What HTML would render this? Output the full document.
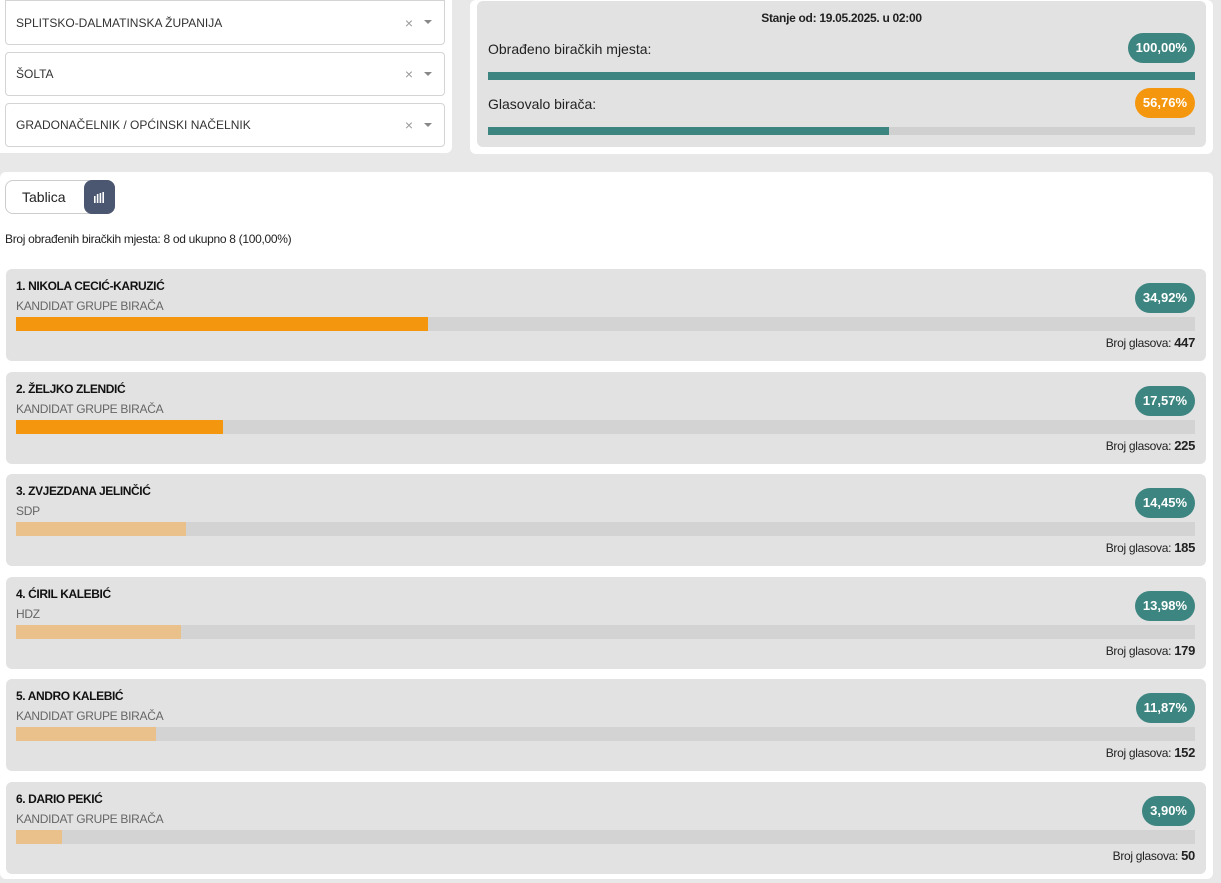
<!DOCTYPE html>
<html><head><meta charset="utf-8"><style>
*{box-sizing:border-box;margin:0;padding:0}
body{width:1221px;height:883px;background:#e8e8e8;font-family:"Liberation Sans",sans-serif;position:relative;overflow:hidden;color:#222}
.abs{position:absolute}
.panel{position:absolute;background:#fff;border-radius:6px}
.sel{position:absolute;left:5px;width:440px;height:44px;border:1px solid #d4d4d4;border-radius:4px;background:#fff;font-size:12px;color:#333;padding-left:10px;line-height:42px}
.sel .x{position:absolute;right:31px;top:0;color:#999;font-size:14px}
.sel .c{position:absolute;right:12px;top:19px;border-left:4px solid transparent;border-right:4px solid transparent;border-top:4px solid #888}
.badge{position:absolute;right:0;height:30px;border-radius:15px;background:#3d8580;color:#fff;font-weight:bold;font-size:13px;line-height:30px;padding:0 8px}
.card{position:absolute;left:6px;width:1200px;height:92px;background:#e2e2e2;border-radius:6px}
.card .nm{position:absolute;left:10px;top:10px;font-size:12px;font-weight:bold;letter-spacing:-0.4px;color:#111}
.card .sb{position:absolute;left:10px;top:30px;font-size:12px;color:#666;letter-spacing:-0.3px}
.card .tr{position:absolute;left:10px;top:48px;width:1179px;height:14px;background:#d3d3d3}
.card .fl{position:absolute;left:0;top:0;height:14px}
.card .bd{position:absolute;right:11px;top:14px;height:30px;border-radius:15px;background:#3d8580;color:#fff;font-weight:bold;font-size:13px;line-height:30px;padding:0 8px}
.card .vt{position:absolute;right:11px;top:66px;font-size:12px;color:#222;letter-spacing:-0.3px}
.card .vt b{font-size:13px}
</style></head><body>
<div class="panel" style="left:0;top:0;width:452px;height:153px;border-radius:0 0 6px 0"></div>
<div class="sel" style="top:0px;border-top-left-radius:0;border-top-right-radius:0;height:45px;line-height:44px">SPLITSKO-DALMATINSKA ŽUPANIJA<span class="x">×</span><span class="c"></span></div>
<div class="sel" style="top:52px">ŠOLTA<span class="x">×</span><span class="c"></span></div>
<div class="sel" style="top:103px">GRADONAČELNIK / OPĆINSKI NAČELNIK<span class="x">×</span><span class="c"></span></div>

<div class="panel" style="left:470px;top:0;width:743px;height:154px"></div>
<div class="abs" style="left:477px;top:1px;width:729px;height:146px;background:#e2e2e2;border-radius:6px">
 <div class="abs" style="left:0;width:729px;top:10px;text-align:center;font-size:12px;font-weight:bold;letter-spacing:-0.3px">Stanje od: 19.05.2025. u 02:00</div>
 <div class="abs" style="left:11px;top:40px;font-size:14px;color:#222">Obrađeno biračkih mjesta:</div>
 <div class="abs" style="right:11px;top:32px;height:30px;border-radius:15px;background:#3d8580;color:#fff;font-weight:bold;font-size:13px;line-height:30px;padding:0 8px">100,00%</div>
 <div class="abs" style="left:11px;top:71px;width:707px;height:8px;background:#3d8580"></div>
 <div class="abs" style="left:11px;top:95px;font-size:14px;color:#222">Glasovalo birača:</div>
 <div class="abs" style="right:11px;top:87px;height:30px;border-radius:15px;background:#f5960f;color:#fff;font-weight:bold;font-size:13px;line-height:30px;padding:0 8px">56,76%</div>
 <div class="abs" style="left:11px;top:126px;width:707px;height:8px;background:#d0d0d0"><div style="width:401px;height:8px;background:#3d8580"></div></div>
</div>

<div class="panel" style="left:0;top:172px;width:1213px;height:707px"></div>
<div class="abs" style="left:5px;top:180px;width:110px;height:34px;border:1px solid #ccc;border-radius:8px;background:#fff"></div>
<div class="abs" style="left:22px;top:189px;font-size:14px;color:#222">Tablica</div>
<div class="abs" style="left:84px;top:180px;width:31px;height:34px;background:#4b5670;border-radius:8px;color:#fff;text-align:center">
 <svg width="31" height="34"><g fill="#fff"><rect x="10" y="16" width="1.6" height="7"/><rect x="12.8" y="14" width="1.6" height="9"/><rect x="15.6" y="13" width="1.6" height="10"/><rect x="18.4" y="12" width="1.6" height="11"/></g></svg>
</div>
<div class="abs" style="left:5px;top:232px;font-size:12px;color:#222;letter-spacing:-0.3px">Broj obrađenih biračkih mjesta: 8 od ukupno 8 (100,00%)</div>

<div class="card" style="top:269px"><div class="nm">1. NIKOLA CECIĆ-KARUZIĆ</div><div class="sb">KANDIDAT GRUPE BIRAČA</div><div class="tr"><div class="fl" style="width:412px;background:#f5960f"></div></div><div class="bd">34,92%</div><div class="vt">Broj glasova: <b>447</b></div></div>
<div class="card" style="top:372px"><div class="nm">2. ŽELJKO ZLENDIĆ</div><div class="sb">KANDIDAT GRUPE BIRAČA</div><div class="tr"><div class="fl" style="width:207px;background:#f5960f"></div></div><div class="bd">17,57%</div><div class="vt">Broj glasova: <b>225</b></div></div>
<div class="card" style="top:474px"><div class="nm">3. ZVJEZDANA JELINČIĆ</div><div class="sb">SDP</div><div class="tr"><div class="fl" style="width:170px;background:#ebc18b"></div></div><div class="bd">14,45%</div><div class="vt">Broj glasova: <b>185</b></div></div>
<div class="card" style="top:577px"><div class="nm">4. ĆIRIL KALEBIĆ</div><div class="sb">HDZ</div><div class="tr"><div class="fl" style="width:165px;background:#ebc18b"></div></div><div class="bd">13,98%</div><div class="vt">Broj glasova: <b>179</b></div></div>
<div class="card" style="top:679px"><div class="nm">5. ANDRO KALEBIĆ</div><div class="sb">KANDIDAT GRUPE BIRAČA</div><div class="tr"><div class="fl" style="width:140px;background:#ebc18b"></div></div><div class="bd">11,87%</div><div class="vt">Broj glasova: <b>152</b></div></div>
<div class="card" style="top:782px"><div class="nm">6. DARIO PEKIĆ</div><div class="sb">KANDIDAT GRUPE BIRAČA</div><div class="tr"><div class="fl" style="width:46px;background:#ebc18b"></div></div><div class="bd">3,90%</div><div class="vt">Broj glasova: <b>50</b></div></div>
</body></html>
